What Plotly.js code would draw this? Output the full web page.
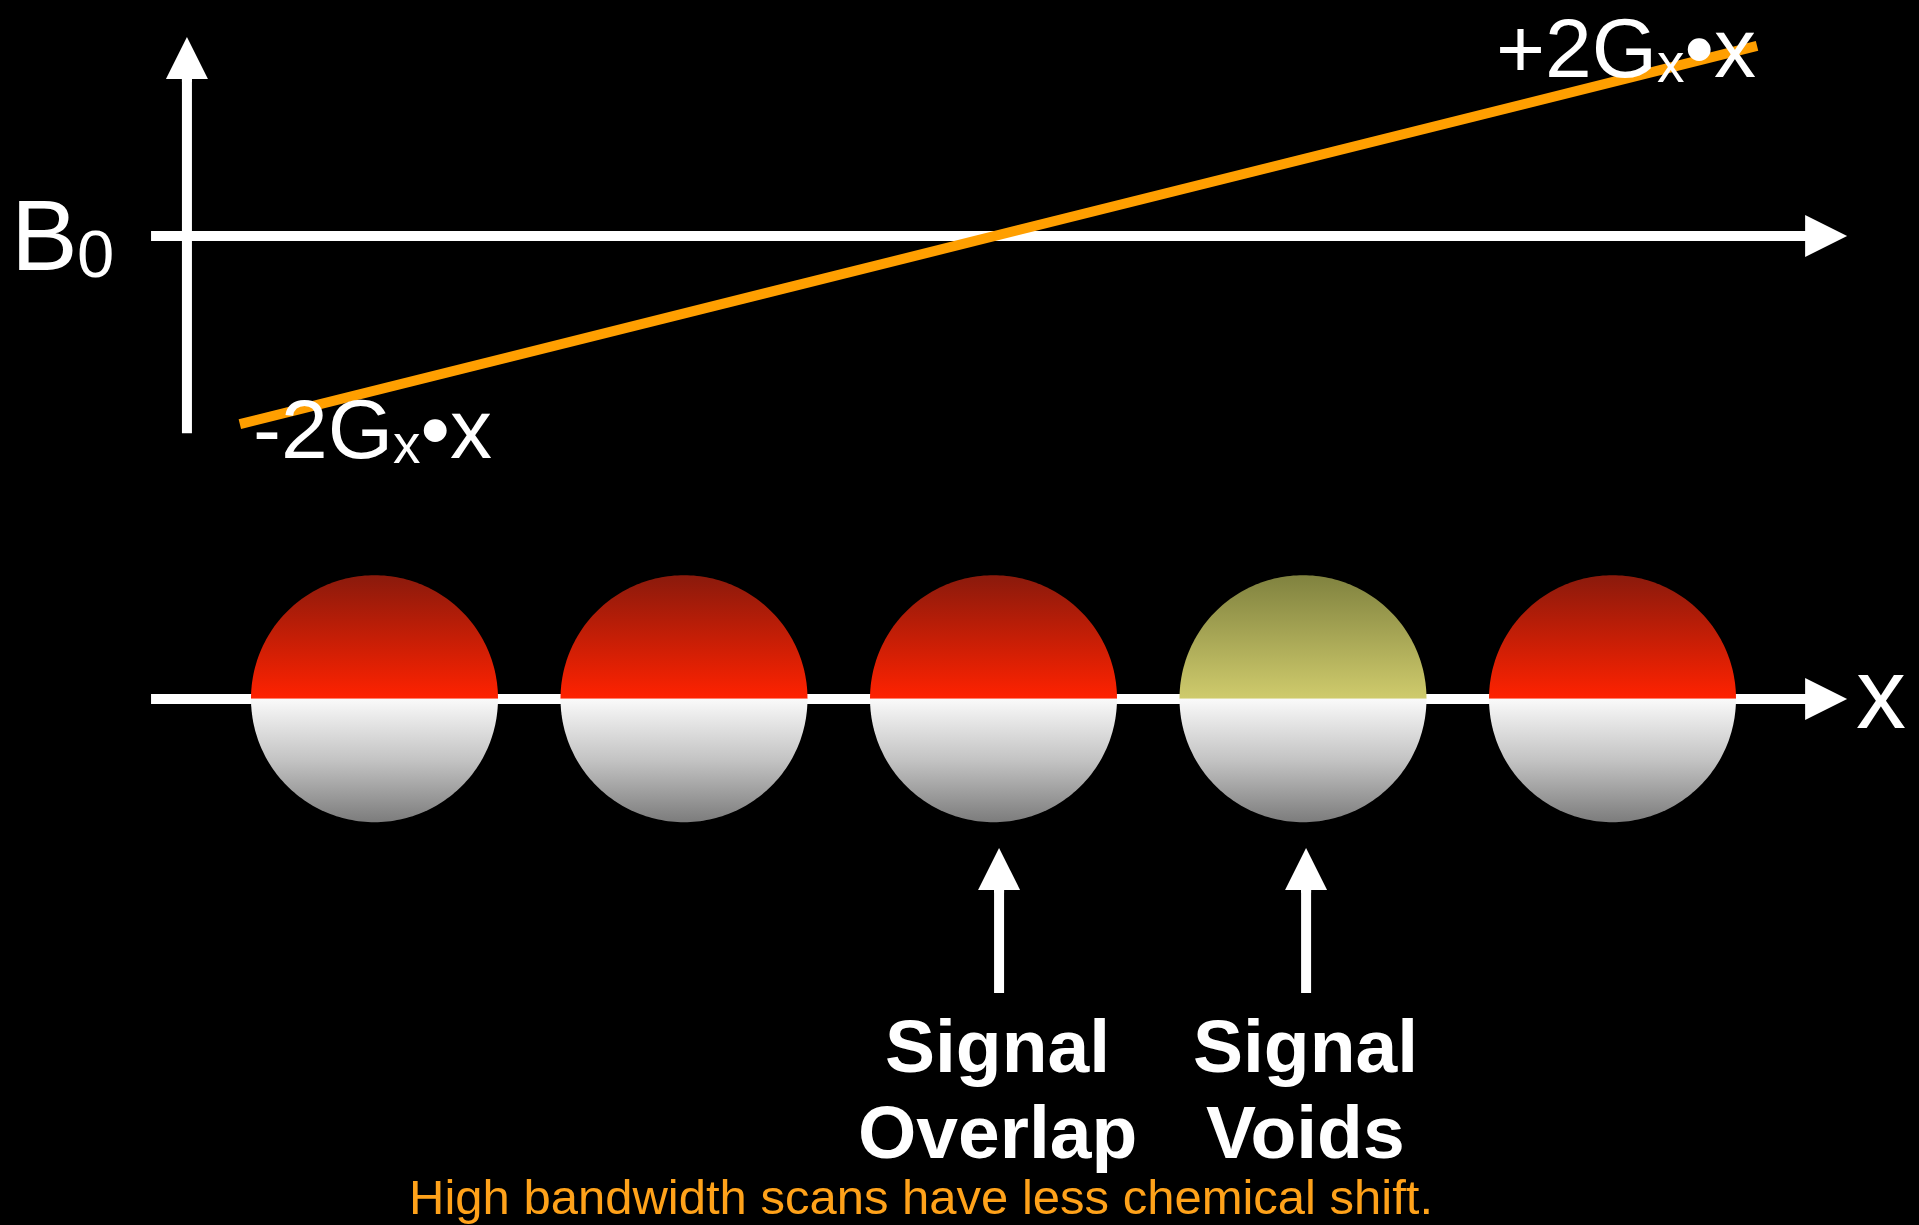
<!DOCTYPE html>
<html>
<head>
<meta charset="utf-8">
<script src="https://cdn.plot.ly/plotly-3.0.1.min.js"></script>
<style>
  html, body { margin: 0; padding: 0; background: #000; overflow: hidden; }
  #chart { width: 1919px; height: 1225px; }
</style>
</head>
<body>
<div id="chart"></div>
<script>
// ---------------- data ----------------
// spins along the frequency-encoding direction x (units: spin spacing)
const spinX = [-2, -1, 0, 1, 2];
const spinY = -1.495;
const spinRadius = 0.399;
const spinState = ['shifted', 'shifted', 'shifted', 'void', 'shifted'];

// applied gradient field  B = B0 + Gx·x  (drawn relative to B0)
const gradientX = [-2.435, 2.467];
const gradientB = [-0.608, 0.614];

// axes of the sketch
const b0AxisX = [-2.722, 2.758];
const b0AxisY = 0;
const fieldAxisX = -2.606;
const fieldAxisY = [-0.637, 0.643];
const posAxisX = [-2.722, 2.758];
const posAxisY = -1.496;

// pointer arrows and their labels
const pointerX = [0.018, 1.010];
const pointerY = [-2.446, -1.977];
const labelX = [0.014, 1.008];
const labelLine1 = ['Signal', 'Signal'];
const labelLine2 = ['Overlap', 'Voids'];

const footerText = 'High bandwidth scans have less chemical shift.';

// ---------------- styling ----------------
const FONT = 'Liberation Sans, Arial, Helvetica, sans-serif';
const WHITE = '#ffffff';
const ORANGE = '#FF9F00';
const topColors = {
  shifted: [[0, '#FF2200'], [1, '#8A1A0C']],
  void:    [[0, '#CFCB6C'], [1, '#80823F']]
};
const bottomColors = [[0, '#7C7C7C'], [0.5, '#C3C3C3'], [1, '#FAFAFA']];
const SUBX = '<span style="font-size:55px;baseline-shift:-5px">x</span>';

const traces = [];
const annotations = [];

function shaft(x0, y0, x1, y1) {
  const dx = x1 - x0, dy = y1 - y0, L = Math.hypot(dx, dy);
  const k = (L - 0.1) / L;
  traces.push({
    type: 'scatter', mode: 'lines',
    x: [x0, x0 + dx * k], y: [y0, y0 + dy * k],
    line: { color: WHITE, width: 10 },
    hoverinfo: 'skip', showlegend: false
  });
}
function head(x0, y0, x1, y1) {
  const dx = x1 - x0, dy = y1 - y0, L = Math.hypot(dx, dy);
  const k = (L - 0.15) / L;
  annotations.push({
    xref: 'x', yref: 'y', axref: 'x', ayref: 'y',
    x: x1, y: y1, ax: x0 + dx * k, ay: y0 + dy * k,
    text: '', showarrow: true, arrowhead: 2, arrowsize: 0.84,
    arrowwidth: 10, arrowcolor: WHITE, standoff: 0
  });
}
function arrow(x0, y0, x1, y1) { shaft(x0, y0, x1, y1); head(x0, y0, x1, y1); }

// axes
arrow(fieldAxisX, fieldAxisY[0], fieldAxisX, fieldAxisY[1]);
arrow(b0AxisX[0], b0AxisY, b0AxisX[1], b0AxisY);
arrow(posAxisX[0], posAxisY, posAxisX[1], posAxisY);

// gradient line
traces.push({
  type: 'scatter', mode: 'lines', x: gradientX, y: gradientB,
  line: { color: ORANGE, width: 10 }, hoverinfo: 'skip', showlegend: false
});

// spins (two half discs each)
function halfDisc(cx, cy, r, upper, colorscale) {
  const xs = [], ys = [], n = 120;
  for (let k = 0; k <= n; k++) {
    const t = Math.PI * k / n;
    xs.push(cx + r * Math.cos(t));
    ys.push(cy + (upper ? 1 : -1) * r * Math.sin(t));
  }
  traces.push({
    type: 'scatter', mode: 'none', x: xs, y: ys, fill: 'toself',
    fillgradient: {
      type: 'vertical', colorscale: colorscale,
      start: upper ? cy : cy - r, stop: upper ? cy + r : cy
    },
    line: { width: 0 }, hoverinfo: 'skip', showlegend: false
  });
}
spinX.forEach((cx, i) => {
  halfDisc(cx, spinY, spinRadius, true, topColors[spinState[i]]);
  halfDisc(cx, spinY, spinRadius, false, bottomColors);
});

// pointer arrows
pointerX.forEach(px => arrow(px, pointerY[0], px, pointerY[1]));

// ---------------- text ----------------
function label(text, x, y, size, opts) {
  annotations.push(Object.assign({
    xref: 'x', yref: 'y', x: x, y: y, text: text, showarrow: false,
    xanchor: 'left', yanchor: 'middle', borderpad: 0,
    font: { family: FONT, size: size, color: WHITE }
  }, opts || {}));
}
label('B', -3.178, 0.002, 100);
label('0', -2.964, -0.0575, 67);
label('-2G' + SUBX + '•x', -2.396, -0.623, 84);
label('+2G' + SUBX + '•x', 1.620, 0.607, 84);
label('x', 2.784, -1.478, 100);
labelX.forEach((lx, i) => {
  label(labelLine1[i], lx, -2.617, 75, { xanchor: 'center',
    font: { family: FONT, size: 75, color: WHITE, weight: 'bold' } });
  label(labelLine2[i], lx, -2.895, 75, { xanchor: 'center',
    font: { family: FONT, size: 75, color: WHITE, weight: 'bold' } });
});
label(footerText, -0.234, -3.104, 49, { xanchor: 'center',
  font: { family: FONT, size: 49, color: '#FFA21A' } });

const layout = {
  width: 1919, height: 1225,
  margin: { l: 0, r: 0, t: 0, b: 0, pad: 0 },
  paper_bgcolor: '#000000', plot_bgcolor: '#000000',
  showlegend: false,
  xaxis: { range: [-3.2100, 2.9903], visible: false, fixedrange: true },
  yaxis: { range: [-3.19548, 0.76252], visible: false, fixedrange: true },
  annotations: annotations
};

Plotly.newPlot('chart', traces, layout, { displayModeBar: false, staticPlot: true });
</script>
</body>
</html>
